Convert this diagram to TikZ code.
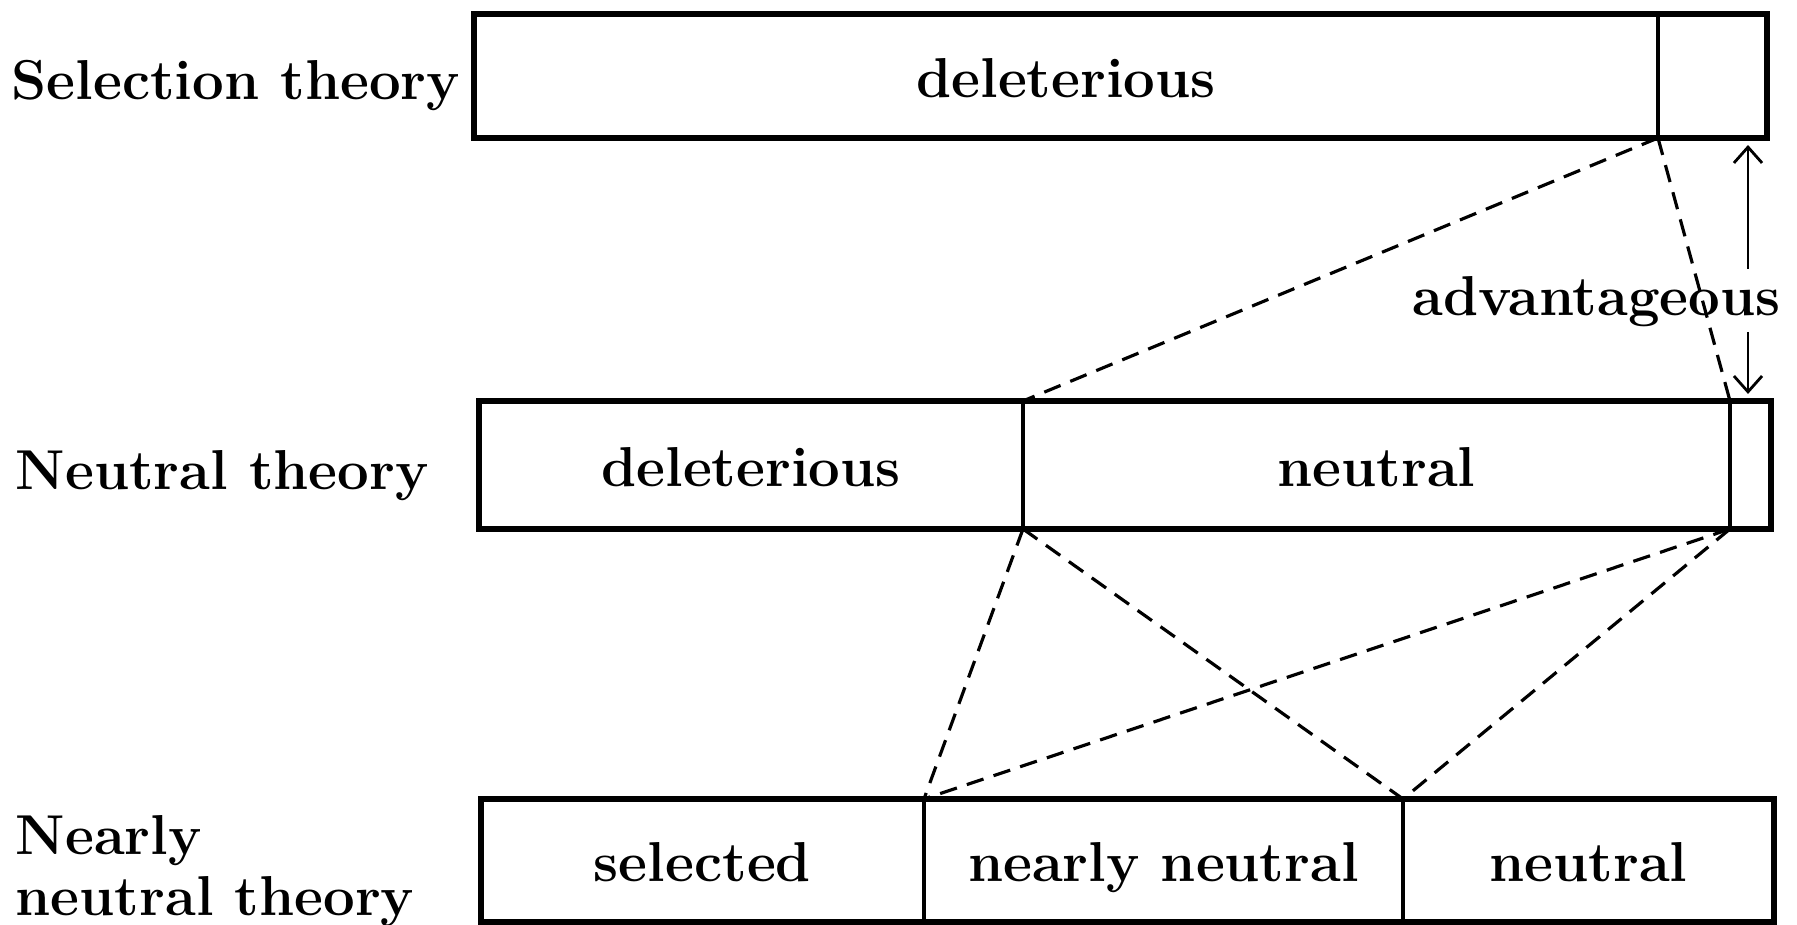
\documentclass[tikz,border=0pt]{standalone}
\usepackage{tikz}
\usetikzlibrary{arrows.meta}

\begin{document}
\begin{tikzpicture}[
  seg/.style={draw, line width=1pt, inner sep=0pt, outer sep=0pt, anchor=south west,
    text height=12.6pt, text depth=0.4pt, font=\fontsize{16}{19}\selectfont\bfseries},
  theory/.style={anchor=base west, align=left, inner sep=0pt,
    font=\fontsize{16}{17.6}\selectfont\bfseries},
  link/.style={dash pattern=on 5pt off 3pt, line width=0.9pt},
  frame/.style={line width=1.6pt},
  arr/.style={-{Straight Barb[length=4.5pt,width=8pt]}, line width=0.8pt}
]
  \useasboundingbox (0,0) rectangle (17.97,9.25);

  % selection theory
  \node[seg, minimum width=11.84cm, minimum height=1.24cm] (topdel) at (4.74,7.87) {deleterious};
  \node[seg, minimum width=1.09cm, minimum height=1.24cm] (topadv) at (16.58,7.87) {};
  % neutral theory
  \node[seg, minimum width=5.44cm, minimum height=1.28cm] (middel) at (4.79,3.96) {deleterious};
  \node[seg, minimum width=7.07cm, minimum height=1.28cm] (midneu) at (10.23,3.96) {neutral};
  \node[seg, minimum width=0.41cm, minimum height=1.28cm] (midadv) at (17.30,3.96) {};
  % nearly neutral theory
  \node[seg, minimum width=4.43cm, minimum height=1.23cm] (botsel) at (4.81,0.03) {selected};
  \node[seg, minimum width=4.79cm, minimum height=1.23cm] (botnn) at (9.24,0.03) {nearly neutral};
  \node[seg, minimum width=3.71cm, minimum height=1.23cm] (botneu) at (14.03,0.03) {neutral};

  \draw[frame] (topdel.south west) rectangle (topadv.north east);
  \draw[frame] (middel.south west) rectangle (midadv.north east);
  \draw[frame] (botsel.south west) rectangle (botneu.north east);

  \node[theory] (lsel) at (0.11,8.25) {Selection theory};
  \node[theory] (lneu) at (0.15,4.35) {Neutral theory};
  \node[theory] (lnn) at (0.15,0.09) {Nearly\\neutral theory};

  % dashed correspondences
  \foreach \a/\b in {topdel.south east/middel.north east,
                     topdel.south east/midneu.north east,
                     middel.south east/botsel.north east,
                     middel.south east/botnn.north east,
                     midneu.south east/botsel.north east,
                     midneu.south east/botnn.north east} {
    \draw[link] (\a) -- (\b);
  }

  % advantageous
  \node[theory] (adv) at (14.12,6.09) {advantageous};
  \coordinate (advtop) at (17.48,6.56);
  \coordinate (advbot) at (17.48,5.93);
  \draw[arr] (advtop) -- ([yshift=-2pt]advtop |- topadv.south);
  \draw[arr] (advbot) -- ([yshift=2pt]advbot |- midadv.north);
\end{tikzpicture}
\end{document}
